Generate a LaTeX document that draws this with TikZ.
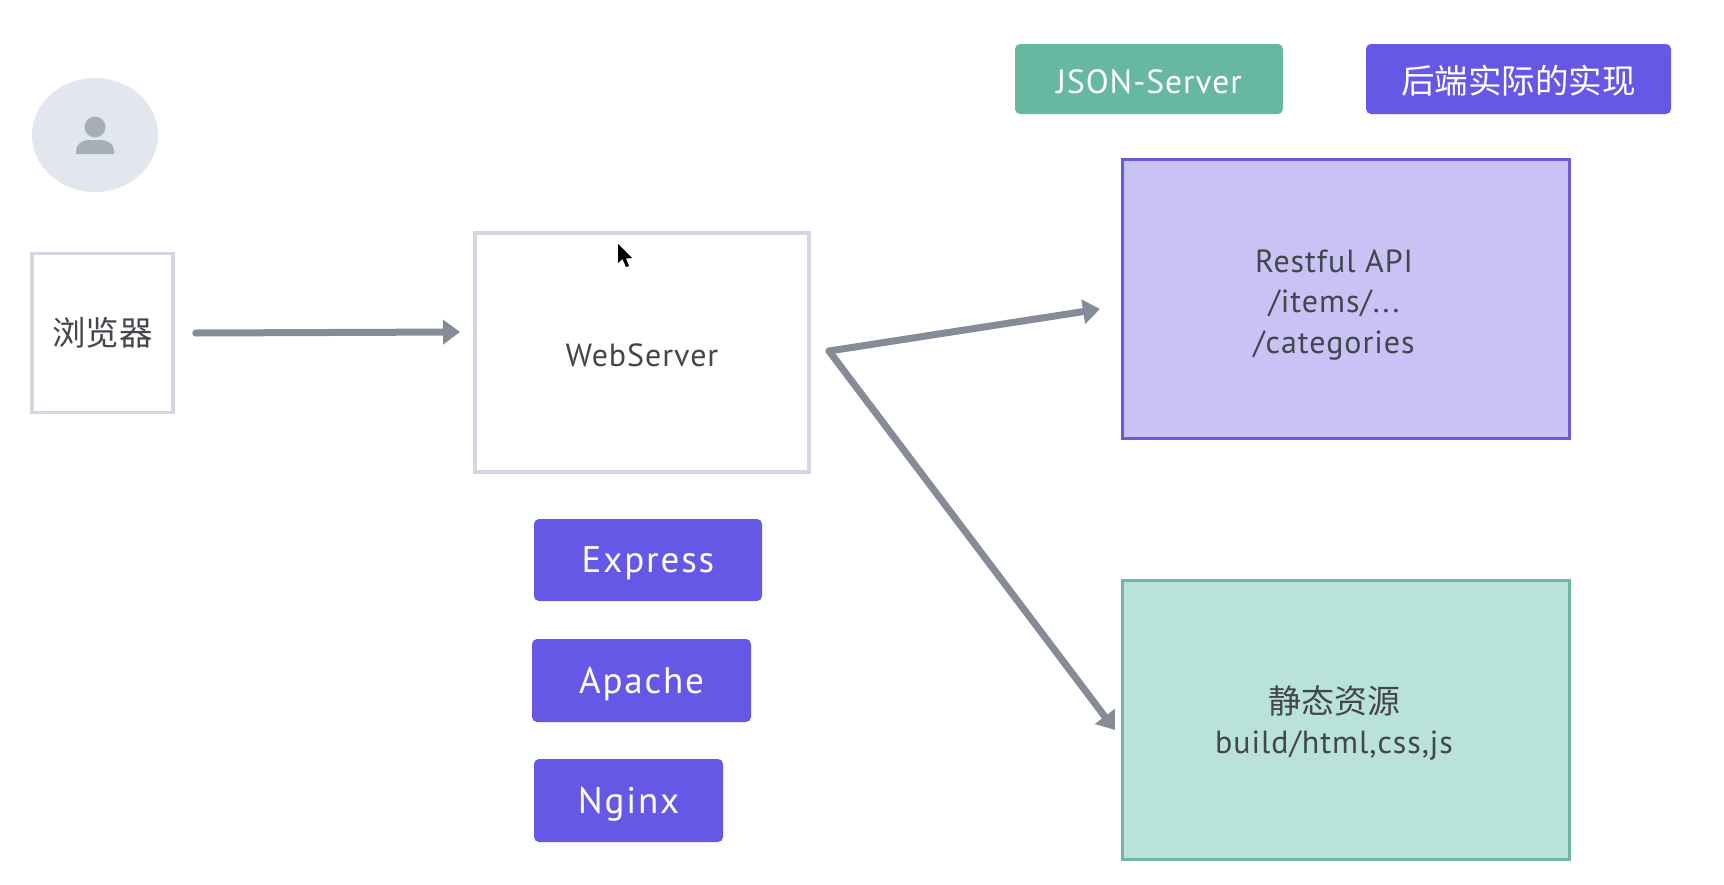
\documentclass[tikz,border=0pt]{standalone}
\usepackage{fontspec}
\setmainfont[LetterSpace=3]{PT Sans}
\newfontfamily\cjk{Noto Sans CJK SC}
\usetikzlibrary{arrows.meta,shapes.geometric}
\definecolor{techpurple}{HTML}{6558E6}
\definecolor{techgreen}{HTML}{67B8A0}
\definecolor{apifill}{HTML}{C9C3F5}
\definecolor{apiline}{HTML}{6A5BDD}
\definecolor{staticfill}{HTML}{B9E3DA}
\definecolor{staticline}{HTML}{72B5A2}
\definecolor{boxline}{HTML}{D3D7E1}
\definecolor{avatarfill}{HTML}{E2E6EE}
\definecolor{avataricon}{HTML}{A6AEBA}
\definecolor{flowgrey}{HTML}{858C98}
\definecolor{bodytext}{HTML}{43464B}
\tikzset{
  plainbox/.style={draw=boxline, line width=3.5pt, fill=white, text=bodytext, font=\fontsize{32}{40}\selectfont},
  techbox/.style={fill=techpurple, rounded corners=5pt, text=white, text height=33pt, text depth=8pt, font=\fontsize{37}{40}\selectfont\addfontfeature{LetterSpace=5}},
  areabox/.style={line width=3pt},
  areatext/.style={text=bodytext, align=center, font=\fontsize{32}{40.5}\selectfont},
  flow/.style={draw=flowgrey, line width=7pt, line cap=round, -{Triangle[length=17pt,width=24pt]}}
}
\begin{document}
\begin{tikzpicture}[x=1pt,y=-1pt]
  \useasboundingbox (0,0) rectangle (1724,884);
  % Visitor
  \node[ellipse, fill=avatarfill, minimum width=126pt, minimum height=114pt, inner sep=0pt] (avatar) at (95,135) {};
  \fill[avataricon] (95,127) circle (10.5pt);
  \fill[avataricon] (76,154) -- (76,151) .. controls (76,144) and (82,140) .. (90,140) -- (100,140) .. controls (108,140) and (114,144) .. (114,151) -- (114,154) -- cycle;
  % Left boxes
  \node[plainbox, minimum width=141pt, minimum height=159pt, font=\cjk\fontsize{33.5}{40}\selectfont] (browser) at (102.5,333) {浏览器};
  \node[plainbox, minimum width=334pt, minimum height=239pt, text height=27.5pt, text depth=0pt] (web) at (642,352.5) {WebServer};
  % Servers
  \node[techbox, minimum width=228pt, minimum height=82pt] (express) at (648,560) {Express};
  \node[techbox, minimum width=219pt, minimum height=83pt] (apache) at (641.5,680.5) {Apache};
  \node[techbox, minimum width=189pt, minimum height=83pt] (nginx) at (628.5,800.5) {Nginx};
  % Legend
  \node[techbox, fill=techgreen, minimum width=268pt, minimum height=70pt, text height=28pt, text depth=0pt, font=\fontsize{33.5}{40}\selectfont] (jsonserver) at (1149,79) {JSON-Server};
  \node[techbox, minimum width=305pt, minimum height=70pt, text height=28pt, text depth=0pt, font=\cjk\fontsize{33.5}{40}\selectfont] (backend) at (1518.5,79) {后端实际的实现};
  % Right areas
  \node[areabox, draw=apiline, fill=apifill, minimum width=447pt, minimum height=279pt] (api) at (1345.5,299) {};
  \node[areatext] (apitext) at (1334,305) {Restful API\\/items/...\\/categories};
  \node[areabox, draw=staticline, fill=staticfill, minimum width=447pt, minimum height=279pt] (static) at (1345.5,720) {};
  \node[areatext] (statictext) at (1334,723) {{\cjk\fontsize{33}{40.5}\selectfont 静态资源}\\build/html,css,js};
  % Connectors
  \coordinate (webin) at (460,332);
  \coordinate (fork) at (829,351);
  \coordinate (apiin) at (1100,309);
  \coordinate (staticin) at (1115,730);
  \draw[flow] ([xshift=21pt]browser.east) -- (webin);
  \draw[flow] (fork) -- (apiin);
  \draw[flow] (fork) -- (staticin);
  % Pointer
  \fill[black] (618,244) -- (618,263) -- (622.5,259) -- (626,267) -- (629,266) -- (626,258.5) -- (632,258) -- cycle;
\end{tikzpicture}
\end{document}
